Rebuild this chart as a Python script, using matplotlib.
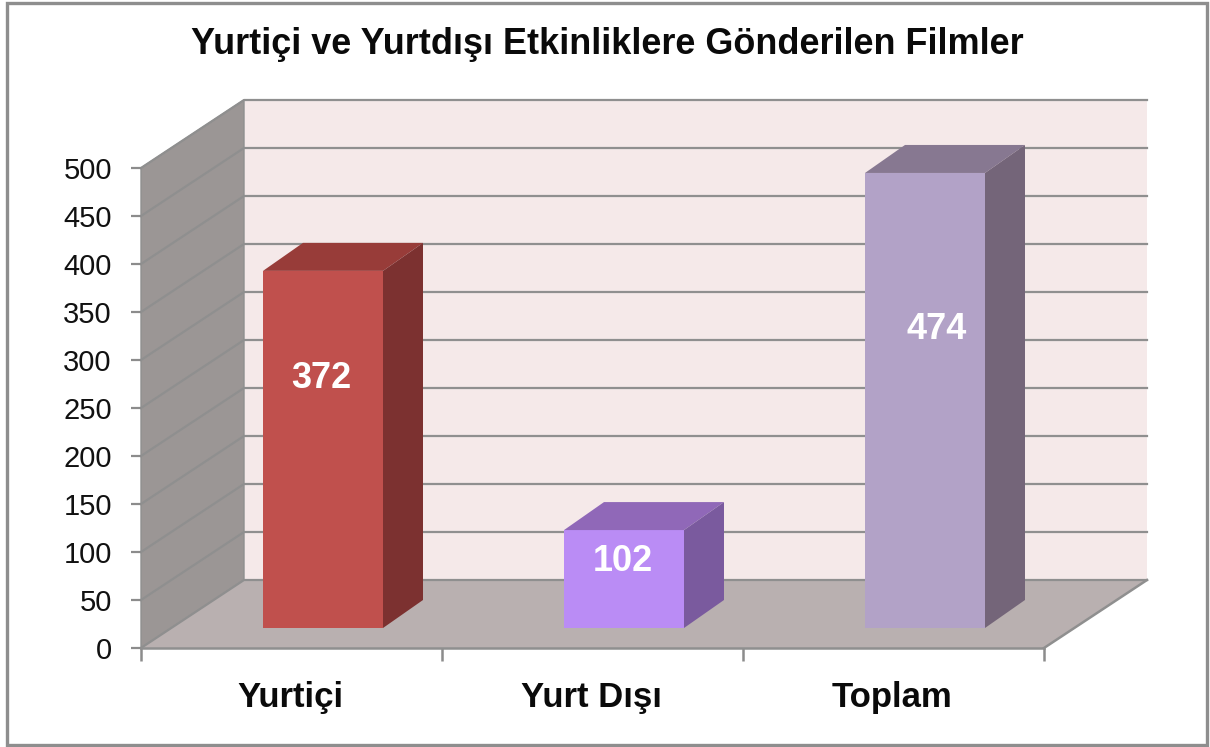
import matplotlib
matplotlib.use("Agg")
import matplotlib.pyplot as plt
from matplotlib.patches import Rectangle

title = "Yurtiçi ve Yurtdışı Etkinliklere Gönderilen Filmler"
categories = ["Yurtiçi", "Yurt Dışı", "Toplam"]
values = [372, 102, 474]
labels = ["372", "102", "474"]
yticks = [0, 50, 100, 150, 200, 250, 300, 350, 400, 450, 500]
front_colors = ["#C0504D", "#BA8CF5", "#B2A2C7"]
top_colors = ["#983C39", "#9068B8", "#877891"]
side_colors = ["#7C3130", "#7A5A9E", "#746579"]
label_offsets_px = [(-2, -108), (-1, -31), (12, -157)]

W, H = 1210, 747
L, R, T, B = 141, 1044, 168, 648
GREY = "#8C8C8C"

plt.rcParams["font.family"] = ["Liberation Sans", "DejaVu Sans"]
fig = plt.figure(figsize=(W / 100, H / 100), dpi=100, facecolor="white")
fig.add_artist(Rectangle((6.5 / W, 1 - 745 / H), 1200 / W, 742.5 / H, transform=fig.transFigure,
                         fill=False, edgecolor="#8E8E8E", linewidth=2.4))
ax = fig.add_axes([L / W, 1 - B / H, (R - L) / W, (B - T) / H])
ax.set_xlim(0, 3)
ax.set_ylim(0, 500)
ax.patch.set_visible(False)
for s in ax.spines.values():
    s.set_visible(False)

# oblique projection: depth in data units
px_x = 3 / (R - L)
px_y = 500 / (B - T)
DX, DY = 103 * px_x, 68 * px_y


def poly(xs, ys, z=2, **kw):
    ax.fill(xs, ys, clip_on=False, zorder=z, **kw)


# back wall, side wall, floor
poly([DX, 3 + DX, 3 + DX, DX], [DY, DY, 500 + DY, 500 + DY], z=1, facecolor="#F5E9E9", edgecolor="none")
poly([0, DX, DX, 0], [0, DY, 500 + DY, 500], z=1, facecolor="#9B9695", edgecolor="#8F8F8F", linewidth=1)
poly([0, 3, 3 + DX, DX], [0, 0, DY, DY], z=1.2, facecolor="#B9B0B0", edgecolor="none")
for v in yticks:
    ax.plot([0, DX, 3 + DX], [v, v + DY, v + DY], color="#8F8F8F", lw=1.6,
            clip_on=False, zorder=1.5)
ax.plot([3, 3 + DX], [0, DY], color="#8F8F8F", lw=1.8, clip_on=False, zorder=1.5)
ax.plot([0, 3], [0, 0], color="#8F8F8F", lw=1.8, clip_on=False, zorder=3)

# bars
bw = 120 * px_x
offx, offy = 29 * px_x, 20 * px_y   # front-face shift from the front of the floor
ddx, ddy = 40 * px_x, 28 * px_y     # bar depth
for i, v in enumerate(values):
    x0 = i + 0.5 + offx - bw / 2 + 2.5 * px_x
    x1 = x0 + bw
    ax.bar(x0, v, width=bw, bottom=offy, align="edge", color=front_colors[i], zorder=4, clip_on=False)
    top = v + offy
    poly([x0, x1, x1 + ddx, x0 + ddx], [top, top, top + ddy, top + ddy], z=4, facecolor=top_colors[i], edgecolor="none")
    poly([x1, x1 + ddx, x1 + ddx, x1], [offy, offy + ddy, top + ddy, top], z=4, facecolor=side_colors[i], edgecolor="none")
    dx_px, dy_px = label_offsets_px[i]
    ax.annotate(labels[i], xy=((x0 + x1) / 2, top), xytext=(dx_px * 0.72, dy_px * 0.72), textcoords="offset points",
                color="white", fontsize=26, fontweight="bold", ha="center", va="center", zorder=5,
                annotation_clip=False)

ax.set_yticks(yticks)
ax.set_yticklabels([str(v) for v in yticks], fontsize=21, color="#111111")
ax.set_xticks([0, 1, 2, 3])
ax.set_xticklabels([])
ax.tick_params(axis="y", length=7, width=1.6, color=GREY, pad=14)
ax.tick_params(axis="x", length=9, width=1.8, color=GREY)
for i, c in enumerate(categories):
    ax.annotate(c, xy=(i + 0.5, 0), xytext=(-1, -35.5), textcoords="offset points", ha="center", va="center",
                fontsize=25, fontweight="bold", color="#0A0A0A", annotation_clip=False)
fig.text(607 / W, 1 - 44 / H, title, fontsize=25.9, fontweight="bold", ha="center", va="center", color="#0A0A0A")
fig.savefig("out.png", dpi=100)
